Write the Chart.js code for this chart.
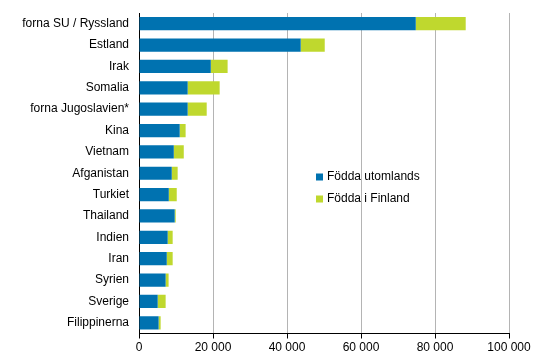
<!DOCTYPE html>
<html><head><meta charset="utf-8">
<script src="https://cdn.jsdelivr.net/npm/chart.js@4/dist/chart.umd.min.js"></script>
<style>html,body{margin:0;padding:0;background:#fff}#wrap{width:539px;height:359px}</style>
</head><body><div id="wrap"><canvas id="c" width="539" height="359"></canvas></div>
<script>
const categories = ["forna SU / Ryssland","Estland","Irak","Somalia","forna Jugoslavien*","Kina","Vietnam","Afganistan","Turkiet","Thailand","Indien","Iran","Syrien","Sverige","Filippinerna"];
const foddaUtomlands = [74800,43700,19400,13150,13150,11000,9400,8850,8050,9650,7750,7500,7200,5050,5300];
const foddaIFinland = [13500,6500,4550,8650,5150,1600,2700,1600,2150,270,1350,1600,800,2150,550];
const seriesNames = ["Födda utomlands","Födda i Finland"];
const xTicks = [0,20000,40000,60000,80000,100000];

const legendPlugin = {
  id:'customLegend',
  afterDraw(chart){
    const ctx = chart.ctx;
    ctx.save();
    ctx.font = '12px "Liberation Sans", Arial, sans-serif';
    ctx.textBaseline = 'middle';
    chart.data.datasets.forEach((ds,i)=>{
      const y = 177 + i*22;
      ctx.fillStyle = ds.backgroundColor;
      ctx.fillRect(316, y-3.5, 7, 7);
      ctx.fillStyle = '#000';
      ctx.fillText(ds.label, 327, y);
    });
    ctx.restore();
  }
};

new Chart(document.getElementById('c'), {
  type:'bar',
  data:{
    labels:categories,
    datasets:[
      {label:seriesNames[0], data:foddaUtomlands, backgroundColor:'#0072B0', barPercentage:0.62, categoryPercentage:1},
      {label:seriesNames[1], data:foddaIFinland, backgroundColor:'#BFD82E', barPercentage:0.62, categoryPercentage:1}
    ]
  },
  options:{
    indexAxis:'y',
    responsive:false,
    animation:false,
    layout:{padding:{top:13,right:30,left:0,bottom:0}},
    plugins:{legend:{display:false},tooltip:{enabled:false}},
    scales:{
      x:{
        stacked:true, min:0, max:100000,
        afterBuildTicks(scale){ scale.ticks = xTicks.map(v=>({value:v})); },
        afterFit(scale){ scale.height = 359-333.5; scale.paddingLeft = 0; scale.paddingRight = 0; },
        grid:{color:'#B4B4B4', lineWidth:1, drawTicks:true, tickLength:5, tickColor:'#000'},
        border:{display:true,color:'#000',width:1},
        ticks:{color:'#000', padding:2, maxRotation:0, font:{family:'"Liberation Sans", Arial, sans-serif', size:12},
          callback:(v)=>String(v).replace(/\B(?=(\d{3})+(?!\d))/g,' ')}
      },
      y:{
        stacked:true,
        afterFit(scale){ scale.width = 139; scale.paddingTop = 0; scale.paddingBottom = 0; },
        grid:{display:false, drawTicks:false},
        border:{display:true,color:'#000',width:1},
        ticks:{color:'#000', padding:10, autoSkip:false, font:{family:'"Liberation Sans", Arial, sans-serif', size:12}}
      }
    }
  },
  plugins:[legendPlugin]
});
</script></body></html>
